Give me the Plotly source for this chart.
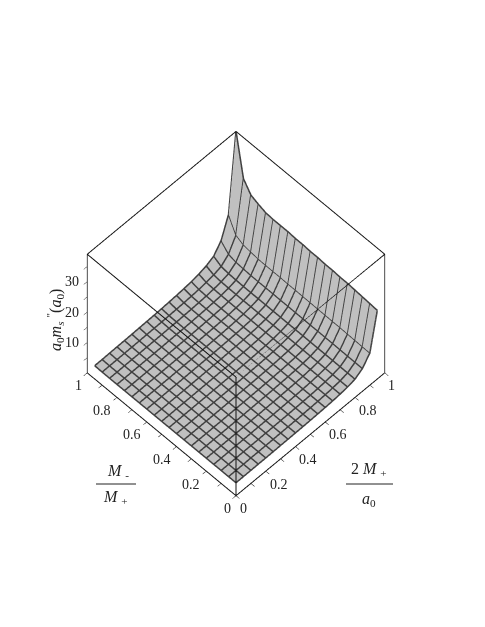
import plotly.graph_objects as go

# grid of the plotted surface
x_vals = [0.05, 0.1, 0.15, 0.2, 0.25, 0.3, 0.35, 0.4, 0.45, 0.5, 0.55, 0.6, 0.65, 0.7, 0.75, 0.8, 0.85, 0.9, 0.95, 1.0]
y_vals = list(x_vals)

row_a = [.09,.11,.14,.17,.18,.21,.25,.29,.32,.37,.44,.52,.62,.75,.97,1.29,1.84,3.31,6.44,18.4]
row_b = [.09,.11,.14,.17,.19,.21,.25,.29,.33,.37,.45,.52,.62,.76,.98,1.3,1.86,3.35,6.51,18.6]
row_c = [.09,.11,.14,.17,.19,.22,.25,.29,.33,.38,.45,.53,.63,.77,.99,1.32,1.88,3.38,6.58,18.8]
row_d = [.1,.11,.14,.17,.19,.22,.26,.29,.33,.38,.46,.53,.64,.78,1,1.33,1.9,3.42,6.65,19]
row_e = [.1,.12,.14,.17,.19,.22,.26,.3,.34,.38,.46,.54,.64,.79,1.01,1.34,1.92,3.46,6.72,19.2]
row_f = [.1,.12,.15,.17,.19,.22,.26,.3,.34,.39,.47,.54,.65,.8,1.02,1.36,1.94,3.49,6.79,19.4]
row_g = [.1,.12,.15,.18,.2,.23,.26,.3,.34,.39,.47,.55,.66,.8,1.03,1.37,1.96,3.53,6.86,19.6]
row_h = [.1,.12,.15,.18,.2,.23,.27,.31,.35,.4,.48,.55,.66,.81,1.04,1.39,1.98,3.56,6.93,19.8]
row_i = [.1,.12,.15,.18,.2,.23,.27,.31,.35,.4,.48,.56,.67,.82,1.05,1.4,2,3.6,7,20]
row_j = [.1,.12,.15,.18,.2,.23,.27,.31,.35,.4,.48,.57,.68,.83,1.06,1.41,2.02,3.64,7.07,20.2]
row_k = [.11,.13,.16,.19,.21,.24,.28,.33,.37,.42,.5,.59,.7,.86,1.1,1.47,2.1,3.78,7.35,21]
row_l = [.11,.13,.17,.2,.22,.25,.3,.34,.39,.44,.53,.62,.74,.9,1.16,1.54,2.2,3.96,7.7,22]
row_m = [.13,.15,.19,.23,.25,.29,.34,.39,.44,.51,.61,.71,.85,1.04,1.33,1.78,2.54,4.57,8.89,25.4]
row_n = [.2,.23,.29,.35,.39,.45,.53,.6,.68,.78,.94,1.09,1.31,1.6,2.05,2.73,3.9,7.02,13.65,39]

z_vals = [row_a, row_b, row_c, row_d, row_e, row_e, row_f, row_f, row_g, row_g, row_h, row_h,
          row_i, row_i, row_i, row_j, row_k, row_l, row_m, row_n]

xy_ticks = [0, 0.1, 0.2, 0.3, 0.4, 0.5, 0.6, 0.7, 0.8, 0.9, 1]
xy_labels = [0, 0.2, 0.4, 0.6, 0.8, 1]
z_ticks = [0, 5, 10, 15, 20, 25, 30, 35]
z_labels = [10, 20, 30]
XY_RANGE = [0, 1]
Z_RANGE = [0, 39]

SERIF = 'Liberation Serif'
INK = '#222'
MESH = '#404040'
MESH_LIFT = 0.12  # keeps the lines off the surface so they don't z-fight
W, H = 485, 627


def axis(tickvals, rng):
    return dict(range=rng, tickmode='array', tickvals=tickvals, showticklabels=False,
                title=dict(text=''), showgrid=False, zeroline=False, showbackground=False,
                showspikes=False, showline=True, linecolor='#111', linewidth=2, mirror=True,
                ticks='outside', ticklen=5, tickcolor='#111', tickwidth=1)


fig = go.Figure(go.Surface(
    x=x_vals, y=y_vals, z=z_vals,
    colorscale=[[0, '#c0c0c0'], [1, '#c0c0c0']], showscale=False, hoverinfo='skip',
    lighting=dict(ambient=1, diffuse=0, specular=0, roughness=1, fresnel=0),
    contours=dict(x=dict(highlight=False), y=dict(highlight=False), z=dict(highlight=False)),
))

# mesh lines, one polyline per grid row and column with gaps between them
mesh_x, mesh_y, mesh_z = [], [], []
for j, yv in enumerate(y_vals):
    mesh_x += x_vals + [None]
    mesh_y += [yv] * len(x_vals) + [None]
    mesh_z += [v + MESH_LIFT for v in z_vals[j]] + [None]
for i, xv in enumerate(x_vals):
    mesh_x += [xv] * len(y_vals) + [None]
    mesh_y += y_vals + [None]
    mesh_z += [row[i] + MESH_LIFT for row in z_vals] + [None]
fig.add_trace(go.Scatter3d(x=mesh_x, y=mesh_y, z=mesh_z, mode='lines', hoverinfo='skip', showlegend=False,
                           connectgaps=False, line=dict(color=MESH, width=3)))

# front edges of the box, the axis mirror only draws the outline
x0, x1 = XY_RANGE
z0, z1 = Z_RANGE
fig.add_trace(go.Scatter3d(x=[x0, x0, x1, None, x0, x0], y=[x0, x0, x0, None, x0, x1], z=[z0, z1, z1, None, z1, z1],
                           mode='lines', hoverinfo='skip', showlegend=False, connectgaps=False,
                           line=dict(color='#111', width=2)))


def label(px, py, text, size=16, angle=0):
    fig.add_annotation(xref='paper', yref='paper', x=px / W, y=1 - py / H, text=text, showarrow=False,
                       xanchor='center', yanchor='middle', textangle=angle,
                       font=dict(family=SERIF, size=size, color=INK))


def tick_note(x, y, z, text, dx, dy):
    return dict(x=x, y=y, z=z, text=text, showarrow=False, xshift=dx, yshift=dy, xanchor='center', yanchor='middle',
                font=dict(family=SERIF, size=14, color=INK))


notes = []
for v in xy_labels:
    end = v in (0, 1)
    notes.append(tick_note(v, 0, 0, str(v), 7 if end else 13, -13))
    notes.append(tick_note(0, v, 0, str(v), -9 if end else -15, -13))
for v in z_labels:
    notes.append(tick_note(0, 1, v, str(v), -15, 0))

label(110, 463, '<i>M</i> <sub>-</sub>')
label(107, 489, '<i>M</i> <sub>+</sub>')
label(361, 461, '2 <i>M</i> <sub>+</sub>')
label(361, 491, '<i>a</i><sub>0</sub>')
label(47, 312, "<i>a</i><sub>0</sub><i>m<sub>s</sub></i> <sup>\"</sup>(<i>a</i><sub>0</sub>)", angle=-90)

for bar0, bar1, bar_y in [(88, 128, 476), (338, 385, 476)]:
    fig.add_shape(type='line', xref='paper', yref='paper', x0=bar0 / W, x1=bar1 / W,
                  y0=1 - bar_y / H, y1=1 - bar_y / H, line=dict(color=INK, width=1))

fig.update_layout(
    width=W, height=H, margin=dict(l=0, r=0, t=0, b=0),
    paper_bgcolor='white', showlegend=False,
    scene=dict(
        domain=dict(x=[0, 456 / W], y=[0, 1]),
        xaxis=axis(xy_ticks, XY_RANGE),
        yaxis=axis(xy_ticks, XY_RANGE),
        zaxis=axis(z_ticks, Z_RANGE),
        annotations=notes,
        aspectmode='manual', aspectratio=dict(x=0.671, y=0.671, z=0.671),
        camera=dict(eye=dict(x=-0.9, y=-0.9, z=1.82), up=dict(x=0, y=0, z=1),
                    center=dict(x=0, y=0, z=-0.045), projection=dict(type='orthographic')),
    ),
)

fig.write_html("out.html")
